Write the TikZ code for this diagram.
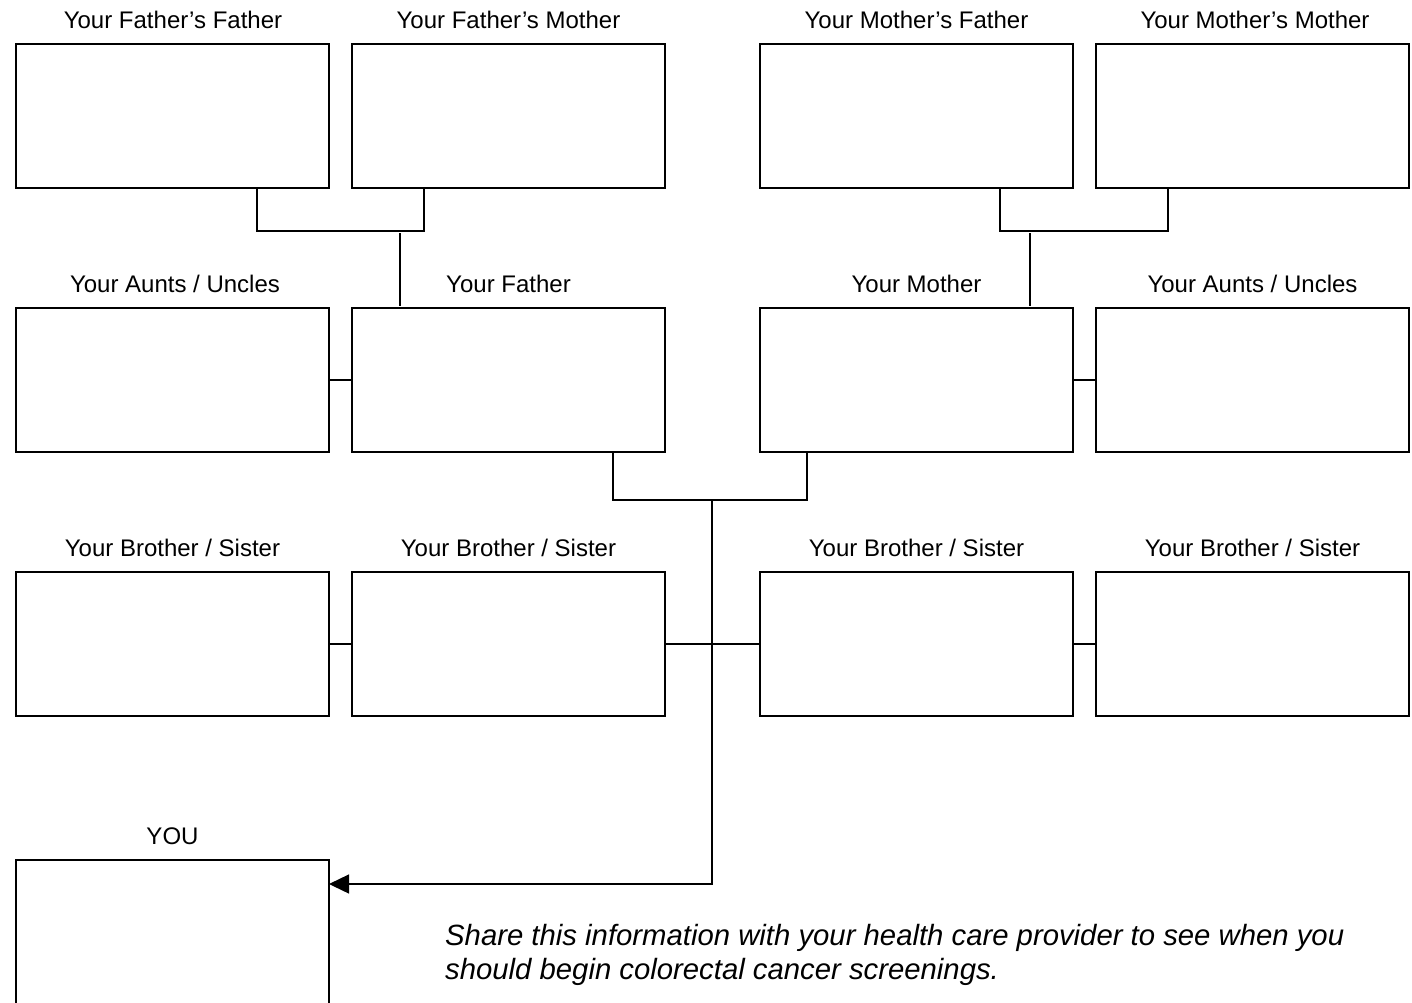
\documentclass[tikz,border=0pt]{standalone}
\usepackage{fontspec}
\setmainfont{Liberation Sans}
\usetikzlibrary{arrows.meta,calc}
\begin{document}
\begin{tikzpicture}[x=1pt,y=-1pt,
  box/.style={draw,line width=1.4pt,rectangle,minimum width=313pt,minimum height=144pt,inner sep=0pt,outer sep=0pt},
  lbl/.style={font=\fontsize{24}{27}\selectfont,inner sep=0pt,anchor=center},
  conn/.style={line width=1.4pt}]
\useasboundingbox (0,0) rectangle (1412,1002);
% row 1
\node[box] (ff) at (172.5,116) {};
\node[box] (fm) at (508.5,116) {};
\node[box] (mf) at (916.5,116) {};
\node[box] (mm) at (1252.5,116) {};
% row 2
\node[box] (au1) at (172.5,380) {};
\node[box] (fa) at (508.5,380) {};
\node[box] (mo) at (916.5,380) {};
\node[box] (au2) at (1252.5,380) {};
% row 3
\node[box] (s1) at (172.5,644) {};
\node[box] (s2) at (508.5,644) {};
\node[box] (s3) at (916.5,644) {};
\node[box] (s4) at (1252.5,644) {};
% you
\node[box] (you) at (172.5,932) {};
% labels
\node[lbl] (lff) at (173,20) {Your Father’s Father};
\node[lbl] (lfm) at (508.5,20) {Your Father’s Mother};
\node[lbl] (lmf) at (916.5,20) {Your Mother’s Father};
\node[lbl] (lmm) at (1255,20) {Your Mother’s Mother};
\node[lbl] (lau1) at (175,284) {Your Aunts / Uncles};
\node[lbl] (lfa) at (508.5,284) {Your Father};
\node[lbl] (lmo) at (916.5,284) {Your Mother};
\node[lbl] (lau2) at (1252.5,284) {Your Aunts / Uncles};
\node[lbl] (ls1) at (172.5,548) {Your Brother / Sister};
\node[lbl] (ls2) at (508.5,548) {Your Brother / Sister};
\node[lbl] (ls3) at (916.5,548) {Your Brother / Sister};
\node[lbl] (ls4) at (1252.5,548) {Your Brother / Sister};
\node[lbl] (lyou) at (172.5,836) {YOU};
% note
\node[font=\itshape\fontsize{29.3}{34}\selectfont,align=left,anchor=north west,inner sep=0pt] (note) at (445,924)
  {Share this information with your health care provider to see when you\\should begin colorectal cancer screenings.};
% connectors
\coordinate (gpl) at (400,233);
\coordinate (gpr) at (1030,233);
\coordinate (pc) at (712,500);
\draw[conn] ($(ff.south east)+(-72,0)$) |- ($(fm.south west)+(72,43)$) -- ($(fm.south west)+(72,0)$);
\draw[conn] ($(mf.south east)+(-73,0)$) |- ($(mm.south west)+(72,43)$) -- ($(mm.south west)+(72,0)$);
\draw[conn] (gpl) -- ($(gpl |- fa.north)+(0,-2)$);
\draw[conn] (gpr) -- ($(gpr |- mo.north)+(0,-2)$);
\draw[conn] ($(fa.south east)+(-52,0)$) |- ($(mo.south west)+(47,48)$) -- ($(mo.south west)+(47,0)$);
\draw[conn] (au1.east) -- (fa.west);
\draw[conn] (mo.east) -- (au2.west);
\draw[conn] (s1.east) -- (s2.west);
\draw[conn] (s2.east) -- (s3.west);
\draw[conn] (s3.east) -- (s4.west);
\draw[conn,-{Triangle[length=20pt,width=19pt]}] (pc) |- ($(you.north east)+(0,24)$);
\end{tikzpicture}
\end{document}
